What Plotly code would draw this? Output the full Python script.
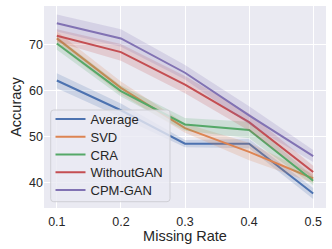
import plotly.graph_objects as go

missing_rate = [0.1, 0.2, 0.3, 0.4, 0.5]
x_tick_labels = ["0.1", "0.2", "0.3", "0.4", "0.5"]
y_ticks = [40, 50, 60, 70]

series_names = ["Average", "SVD", "CRA", "WithoutGAN", "CPM-GAN"]

average_mean = [62.2, 55.7, 48.4, 48.4, 37.5]
average_low = [60.5, 54.2, 47.6, 47.4, 36.3]
average_high = [63.8, 57.2, 49.2, 49.4, 38.7]

svd_mean = [71.4, 60.6, 51.8, 46.6, 40.8]
svd_low = [70.0, 59.2, 50.8, 44.8, 39.8]
svd_high = [72.9, 62.0, 52.8, 48.6, 41.8]

cra_mean = [70.3, 59.9, 52.6, 51.4, 40.3]
cra_low = [68.9, 58.7, 51.2, 49.6, 39.3]
cra_high = [71.8, 61.1, 54.0, 53.2, 41.3]

withoutgan_mean = [72.0, 68.4, 61.3, 53.1, 42.2]
withoutgan_low = [70.6, 66.5, 59.4, 51.2, 40.8]
withoutgan_high = [73.4, 70.2, 63.2, 55.0, 43.6]

cpmgan_mean = [74.7, 71.4, 63.9, 54.6, 45.7]
cpmgan_low = [72.9, 69.6, 62.4, 52.6, 44.4]
cpmgan_high = [76.6, 73.4, 65.6, 56.6, 47.0]

colors = ["#4C72B0", "#DD8452", "#55A868", "#C44E52", "#8172B3"]
fills = ["rgba(76,114,176,0.2)", "rgba(221,132,82,0.2)", "rgba(85,168,104,0.2)",
         "rgba(196,78,82,0.2)", "rgba(129,114,179,0.2)"]

means = [average_mean, svd_mean, cra_mean, withoutgan_mean, cpmgan_mean]
lows = [average_low, svd_low, cra_low, withoutgan_low, cpmgan_low]
highs = [average_high, svd_high, cra_high, withoutgan_high, cpmgan_high]

# plot area in pixels: x 44..326, y 6..208
PL, PR, PT, PB = 44, 326, 6, 208
W, H = PR - PL, PB - PT

def px_x(p):
    return (p - PL) / W

def px_y(p):
    return (PB - p) / H

legend_ids = ["legend", "legend2", "legend3", "legend4", "legend5"]
legend_rows_px = [119, 136.75, 154.5, 172.25, 190]

fig = go.Figure()
for i, (name, m, lo, hi, c, f) in enumerate(zip(series_names, means, lows, highs, colors, fills)):
    fig.add_trace(go.Scatter(
        x=missing_rate + missing_rate[::-1], y=hi + lo[::-1],
        fill="toself", fillcolor=f, line=dict(width=0), mode="lines",
        showlegend=False, hoverinfo="skip"))
    fig.add_trace(go.Scatter(
        x=missing_rate, y=m, mode="lines", name=name, legend=legend_ids[i],
        line=dict(color=c, width=2)))

font_family = "Liberation Sans, Arial, sans-serif"

legend_layouts = {}
for lid, ypx in zip(legend_ids, legend_rows_px):
    legend_layouts[lid] = dict(
        x=px_x(50.5), y=px_y(ypx), xanchor="left", yanchor="middle",
        bgcolor="rgba(0,0,0,0)", borderwidth=0,
        font=dict(size=13, color="#262626", family=font_family), itemwidth=30)

# legend frame with rounded corners (paper coords)
bx0, bx1, by0, by1 = px_x(50.7), px_x(170), px_y(201.7), px_y(110)
rx, ry = 3 / W, 3 / H
frame_path = (
    f"M {bx0+rx},{by0} L {bx1-rx},{by0} Q {bx1},{by0} {bx1},{by0+ry} "
    f"L {bx1},{by1-ry} Q {bx1},{by1} {bx1-rx},{by1} "
    f"L {bx0+rx},{by1} Q {bx0},{by1} {bx0},{by1-ry} "
    f"L {bx0},{by0+ry} Q {bx0},{by0} {bx0+rx},{by0} Z"
)

fig.update_layout(
    width=332, height=249,
    margin=dict(l=PL, r=332 - PR, t=PT, b=249 - PB),
    paper_bgcolor="white", plot_bgcolor="#EAEAF2",
    font=dict(family=font_family, size=12.5, color="#262626"),
    shapes=[dict(type="path", path=frame_path, xref="paper", yref="paper",
                 fillcolor="rgba(234,234,242,0.8)",
                 line=dict(color="rgba(204,204,210,0.9)", width=1), layer="above")],
    xaxis=dict(
        range=[0.08, 0.52], tickvals=missing_rate, ticktext=x_tick_labels,
        showgrid=True, gridcolor="white", gridwidth=1, zeroline=False,
        showline=False, ticks="", ticklabelstandoff=4,
        title=dict(text="Missing Rate", font=dict(size=14.5), standoff=3)),
    yaxis=dict(
        range=[34.35, 78.48], tickvals=y_ticks,
        showgrid=True, gridcolor="white", gridwidth=1, zeroline=False,
        showline=False, ticks="",
        title=dict(text="Accuracy", font=dict(size=14.5), standoff=4)),
    **legend_layouts,
)
fig.write_html("out.html", config={"displayModeBar": False},
               post_script="document.body.style.margin='0';")
